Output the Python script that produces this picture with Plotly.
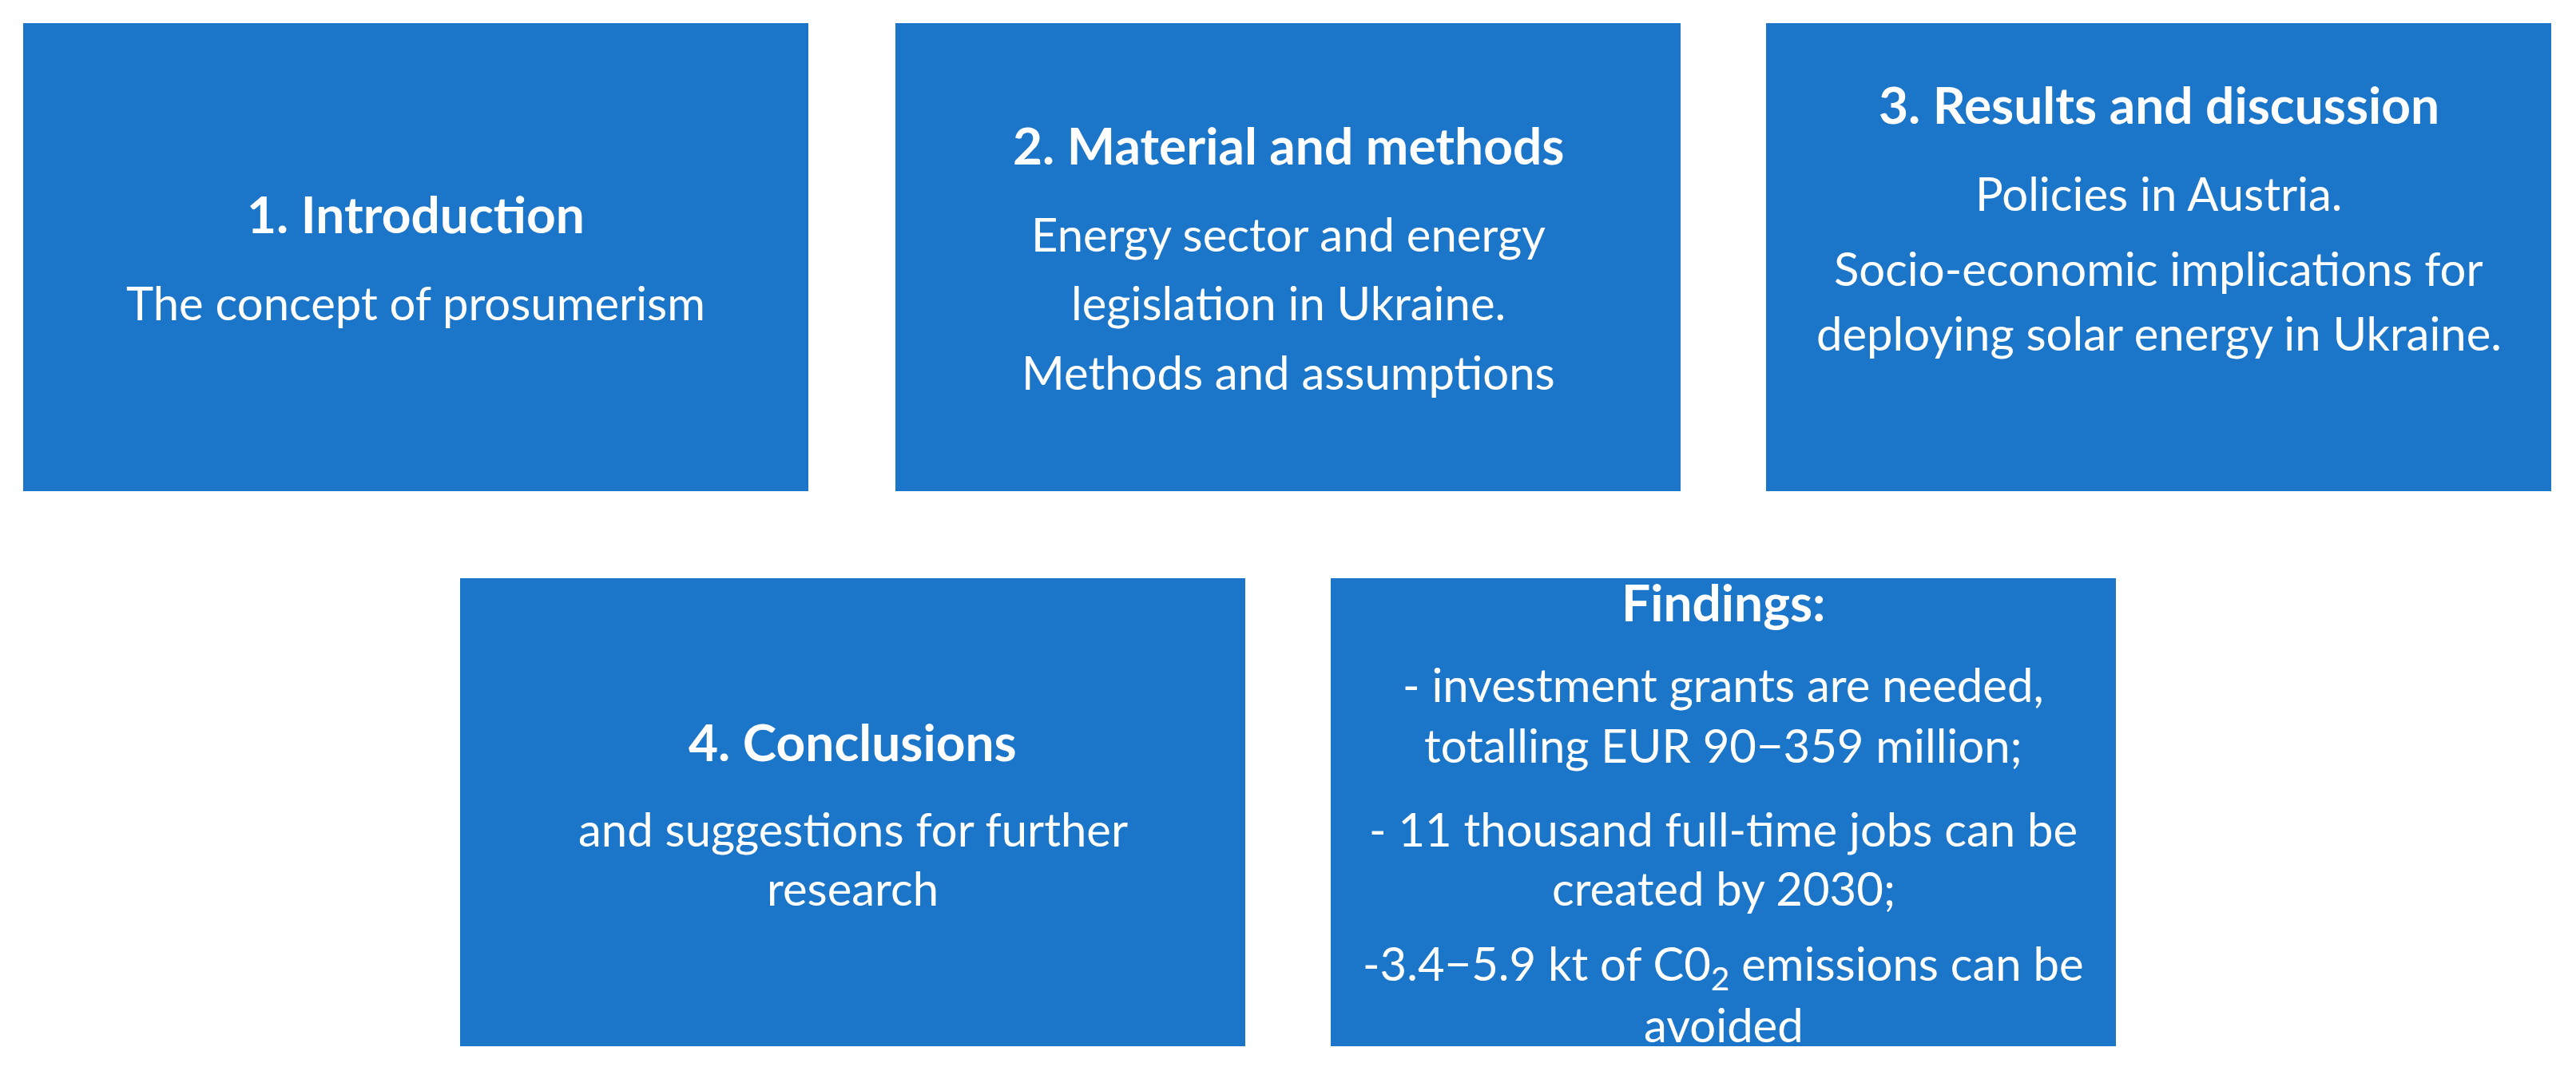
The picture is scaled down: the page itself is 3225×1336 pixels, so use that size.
import plotly.graph_objects as go

W, H = 3225, 1336
BOX_W, BOX_H = 983, 586
BLUE = "#1B75C8"

# box left/top corners (pixels)
box_x = [29, 1121, 2211, 576, 1666]
box_y = [29, 29, 29, 724, 724]

# text lines per box: (text, bold, centre y in pixels)
box_lines = [
    [("1. Introduction", True, 267), ("The concept of prosumerism", False, 378)],
    [("2. Material and methods", True, 181),
     ("Energy sector and energy", False, 292),
     ("legislation in Ukraine.", False, 378),
     ("Methods and assumptions", False, 465)],
    [("3. Results and discussion", True, 130),
     ("Policies in Austria.", False, 241),
     ("Socio-economic implications for", False, 335),
     ("deploying solar energy in Ukraine.", False, 416)],
    [("4. Conclusions", True, 928),
     ("and suggestions for further", False, 1037),
     ("research", False, 1111)],
    [("Findings:", True, 753),
     ("- investment grants are needed,", False, 856),
     ("totalling EUR 90−359 million;", False, 932),
     ("- 11 thousand full-time jobs can be", False, 1037),
     ("created by 2030;", False, 1111),
     ("-3.4−5.9 kt of C0<sub>2</sub> emissions can be", False, 1210),
     ("avoided", False, 1282)],
]

fig = go.Figure()
for x0, y0, lines in zip(box_x, box_y, box_lines):
    fig.add_shape(type="rect", x0=x0, x1=x0 + BOX_W, y0=y0, y1=y0 + BOX_H,
                  fillcolor=BLUE, line=dict(width=0), layer="below")
    for text, bold, y in lines:
        fig.add_annotation(x=x0 + BOX_W / 2, y=y, text=f"<b>{text}</b>" if bold else text,
                           showarrow=False, xanchor="center", yanchor="middle",
                           font=dict(family="Lato", size=64 if bold else 58, color="white"))

fig.update_xaxes(range=[8, W + 8], visible=False)
fig.update_yaxes(range=[H + 8, 8], visible=False)
fig.update_layout(width=W, height=H, margin=dict(l=0, r=0, t=0, b=0),
                  plot_bgcolor="white", paper_bgcolor="white", showlegend=False)
fig.write_html("out.html")
